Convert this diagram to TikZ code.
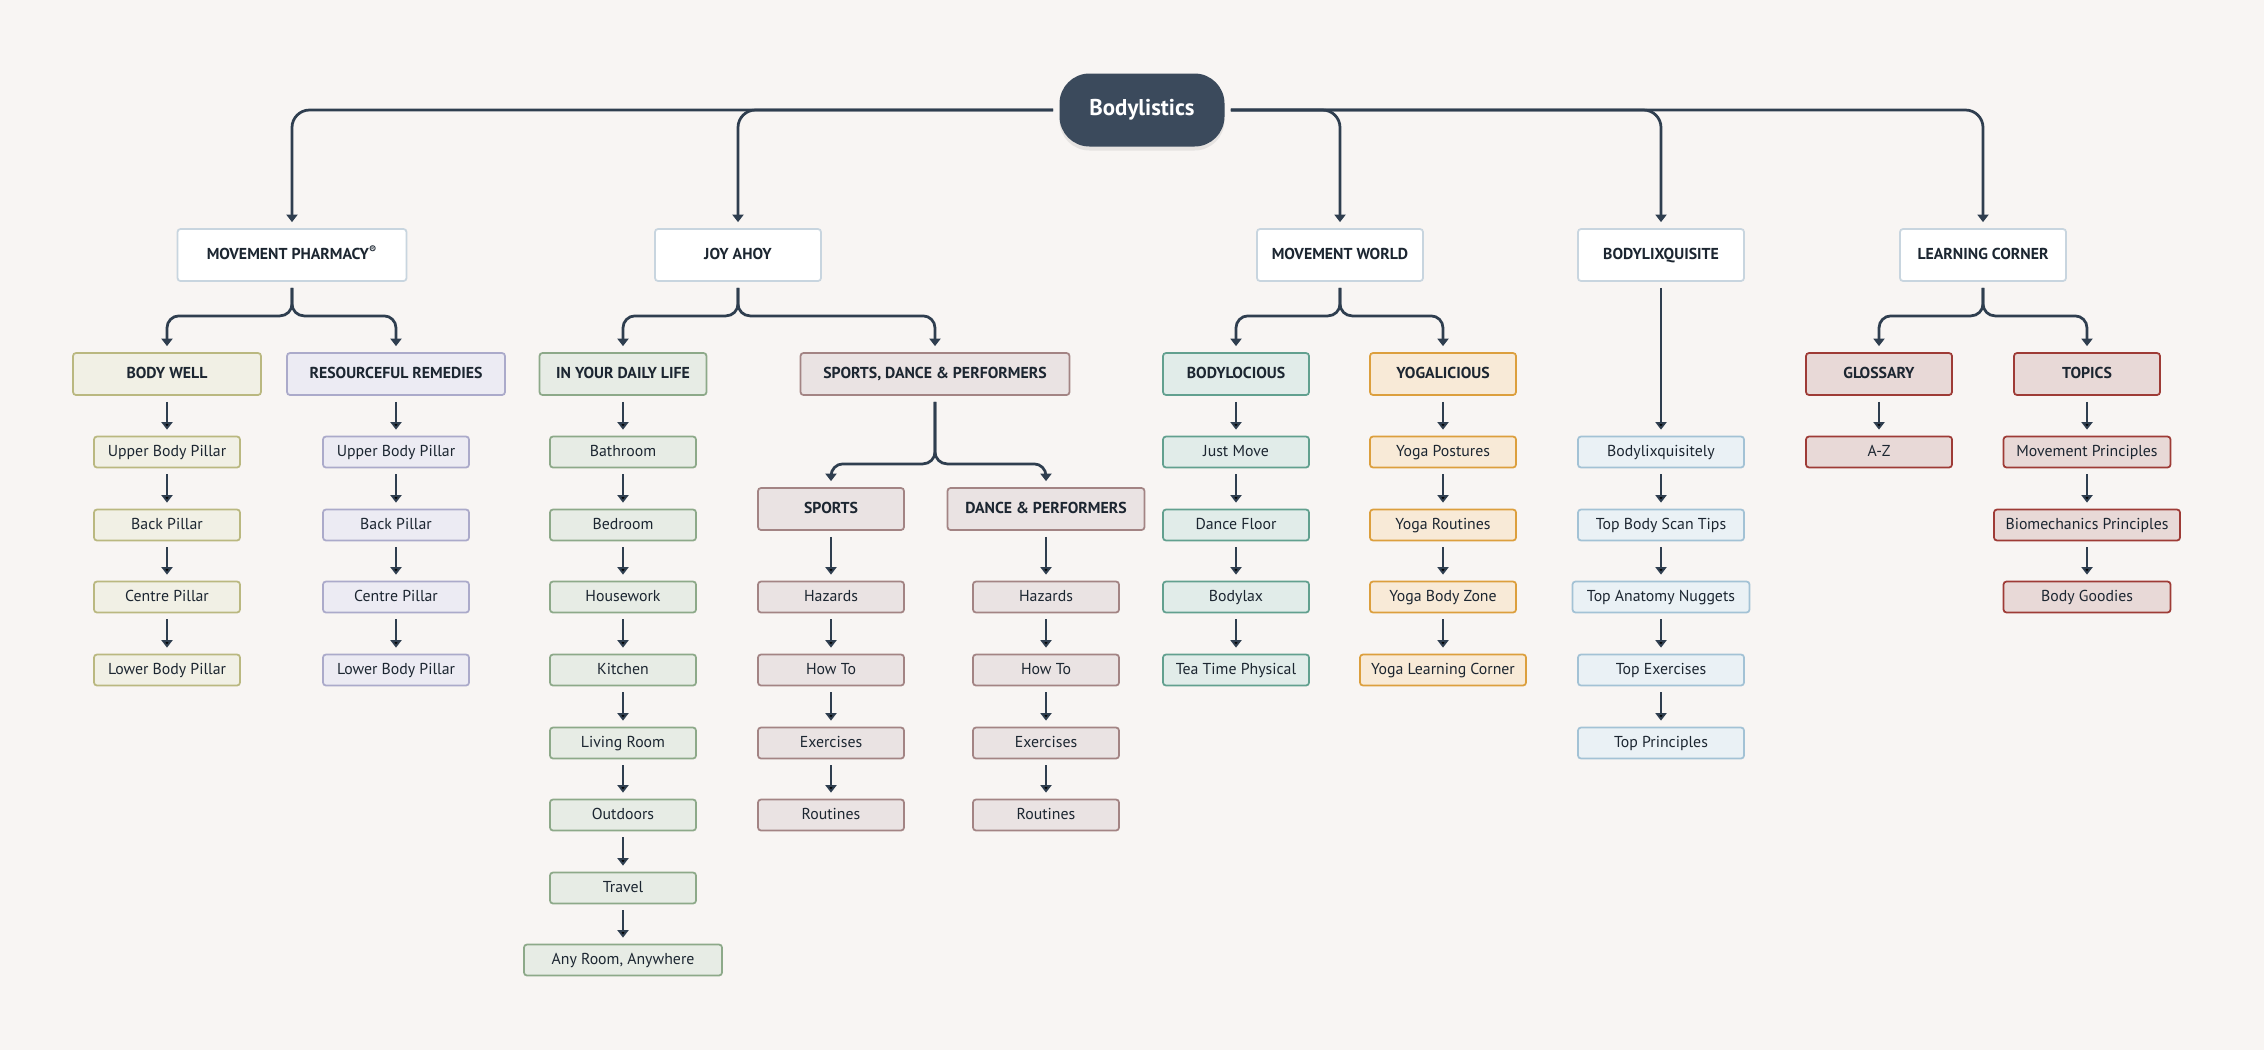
\documentclass[tikz,border=0pt]{standalone}
\usepackage{fontspec}
\setmainfont{PT Sans}
\usetikzlibrary{arrows.meta,shadows}

\definecolor{bg}{HTML}{F8F5F3}
\definecolor{ink}{HTML}{1C2631}
\definecolor{linkc}{HTML}{2F3E4F}
\definecolor{rootc}{HTML}{3B4A5C}
\definecolor{topline}{HTML}{C8D5DF}
\definecolor{wellfill}{HTML}{F1F0E5}
\definecolor{wellline}{HTML}{BAB880}
\definecolor{remedyfill}{HTML}{ECEBF3}
\definecolor{remedyline}{HTML}{ABAACA}
\definecolor{dailyfill}{HTML}{E7ECE5}
\definecolor{dailyline}{HTML}{8DA989}
\definecolor{sportfill}{HTML}{EAE3E3}
\definecolor{sportline}{HTML}{A38484}
\definecolor{locfill}{HTML}{E1ECE9}
\definecolor{locline}{HTML}{62A08F}
\definecolor{yogafill}{HTML}{F8EAD7}
\definecolor{yogaline}{HTML}{DC9F3D}
\definecolor{lixfill}{HTML}{EAF1F5}
\definecolor{lixline}{HTML}{A3C2D5}
\definecolor{learnfill}{HTML}{E8D9D7}
\definecolor{learnline}{HTML}{9E3B36}

\tikzset{
  box/.style={rectangle, rounded corners=0.6mm, line width=0.35mm, minimum height=6.2mm,
    minimum width=29.2mm, inner xsep=1.5mm, text=ink, text height=1.55ex, text depth=0.45ex,
    font=\fontsize{9}{11}\selectfont},
  head/.style={box, minimum height=8.4mm, font=\bfseries\fontsize{9}{11}\selectfont},
  topbox/.style={head, fill=white, draw=topline, minimum height=10.4mm, minimum width=33.2mm},
  rootbox/.style={rectangle, rounded corners=6mm, fill=rootc, text=white, minimum width=33mm,
    minimum height=14.6mm, font=\bfseries\fontsize{13}{15}\selectfont,
    drop shadow={shadow xshift=0mm, shadow yshift=-0.8mm, opacity=0.15}},
  well/.style={fill=wellfill, draw=wellline},
  remedy/.style={fill=remedyfill, draw=remedyline},
  daily/.style={fill=dailyfill, draw=dailyline},
  sport/.style={fill=sportfill, draw=sportline},
  locious/.style={fill=locfill, draw=locline},
  yoga/.style={fill=yogafill, draw=yogaline},
  lix/.style={fill=lixfill, draw=lixline, minimum width=33.2mm},
  learn/.style={fill=learnfill, draw=learnline},
  link/.style={draw=linkc, line width=0.55mm, rounded corners=2.4mm,
    -{Triangle[width=2.2mm,length=1.5mm]}, shorten <=1.2mm, shorten >=1.2mm}
}

\begin{document}
\begin{tikzpicture}[x=0.2mm, y=-0.2mm]
  \fill[bg] (0,0) rectangle (2264,1050);

  % root and main sections
  \node[rootbox] (body) at (1142,110) {Bodylistics};
  \node[topbox, minimum width=45.8mm] (mp) at (292,255) {MOVEMENT PHARMACY\textsuperscript{®}};
  \node[topbox] (ja) at (738,255) {JOY AHOY};
  \node[topbox] (mw) at (1340,255) {MOVEMENT WORLD};
  \node[topbox] (bx) at (1661,255) {BODYLIXQUISITE};
  \node[topbox] (lc) at (1983,255) {LEARNING CORNER};

  % second level
  \node[head, well, minimum width=37.6mm] (bw) at (167,374) {BODY WELL};
  \node[head, remedy, minimum width=43.6mm] (rr) at (396,374) {RESOURCEFUL REMEDIES};
  \node[head, daily, minimum width=33.4mm] (dl) at (623,374) {IN YOUR DAILY LIFE};
  \node[head, sport, minimum width=53.8mm] (sdp) at (935,374) {SPORTS, DANCE \& PERFORMERS};
  \node[head, locious] (bl) at (1236,374) {BODYLOCIOUS};
  \node[head, yoga] (yg) at (1443,374) {YOGALICIOUS};
  \node[head, learn] (gl) at (1879,374) {GLOSSARY};
  \node[head, learn] (tp) at (2087,374) {TOPICS};
  \node[head, sport] (sp) at (831,509) {SPORTS};
  \node[head, sport, minimum width=39.4mm] (dp) at (1046,509) {DANCE \& PERFORMERS};

  % body well
  \node[box, well] (bw1) at (167,452) {Upper Body Pillar};
  \node[box, well] (bw2) at (167,525) {Back Pillar};
  \node[box, well] (bw3) at (167,597) {Centre Pillar};
  \node[box, well] (bw4) at (167,670) {Lower Body Pillar};
  % resourceful remedies
  \node[box, remedy] (rr1) at (396,452) {Upper Body Pillar};
  \node[box, remedy] (rr2) at (396,525) {Back Pillar};
  \node[box, remedy] (rr3) at (396,597) {Centre Pillar};
  \node[box, remedy] (rr4) at (396,670) {Lower Body Pillar};
  % daily life
  \node[box, daily] (dl1) at (623,452) {Bathroom};
  \node[box, daily] (dl2) at (623,525) {Bedroom};
  \node[box, daily] (dl3) at (623,597) {Housework};
  \node[box, daily] (dl4) at (623,670) {Kitchen};
  \node[box, daily] (dl5) at (623,743) {Living Room};
  \node[box, daily] (dl6) at (623,815) {Outdoors};
  \node[box, daily] (dl7) at (623,888) {Travel};
  \node[box, daily, minimum width=39.6mm] (dl8) at (623,960) {Any Room, Anywhere};
  % sports
  \node[box, sport] (sp1) at (831,597) {Hazards};
  \node[box, sport] (sp2) at (831,670) {How To};
  \node[box, sport] (sp3) at (831,743) {Exercises};
  \node[box, sport] (sp4) at (831,815) {Routines};
  \node[box, sport] (dp1) at (1046,597) {Hazards};
  \node[box, sport] (dp2) at (1046,670) {How To};
  \node[box, sport] (dp3) at (1046,743) {Exercises};
  \node[box, sport] (dp4) at (1046,815) {Routines};
  % bodylocious and yogalicious
  \node[box, locious] (bl1) at (1236,452) {Just Move};
  \node[box, locious] (bl2) at (1236,525) {Dance Floor};
  \node[box, locious] (bl3) at (1236,597) {Bodylax};
  \node[box, locious] (bl4) at (1236,670) {Tea Time Physical};
  \node[box, yoga] (yg1) at (1443,452) {Yoga Postures};
  \node[box, yoga] (yg2) at (1443,525) {Yoga Routines};
  \node[box, yoga] (yg3) at (1443,597) {Yoga Body Zone};
  \node[box, yoga, minimum width=33.2mm] (yg4) at (1443,670) {Yoga Learning Corner};
  % bodylixquisite
  \node[box, lix] (bx1) at (1661,452) {Bodylixquisitely};
  \node[box, lix] (bx2) at (1661,525) {Top Body Scan Tips};
  \node[box, lix, minimum width=35.4mm] (bx3) at (1661,597) {Top Anatomy Nuggets};
  \node[box, lix] (bx4) at (1661,670) {Top Exercises};
  \node[box, lix] (bx5) at (1661,743) {Top Principles};
  % learning corner
  \node[box, learn] (gl1) at (1879,452) {A-Z};
  \node[box, learn, minimum width=33.4mm] (tp1) at (2087,452) {Movement Principles};
  \node[box, learn, minimum width=37.2mm] (tp2) at (2087,525) {Biomechanics Principles};
  \node[box, learn, minimum width=33.4mm] (tp3) at (2087,597) {Body Goodies};

  % connectors from the root
  \draw[link, rounded corners=3.5mm] (body.west) -| (mp.north);
  \draw[link, rounded corners=3.5mm] (body.west) -| (ja.north);
  \draw[link, rounded corners=3.5mm] (body.east) -| (mw.north);
  \draw[link, rounded corners=3.5mm] (body.east) -| (bx.north);
  \draw[link, rounded corners=3.5mm] (body.east) -| (lc.north);

  % forks
  \draw[link] (mp.south) -- ++(0,34) -| (bw.north);
  \draw[link] (mp.south) -- ++(0,34) -| (rr.north);
  \draw[link] (ja.south) -- ++(0,34) -| (dl.north);
  \draw[link] (ja.south) -- ++(0,34) -| (sdp.north);
  \draw[link] (mw.south) -- ++(0,34) -| (bl.north);
  \draw[link] (mw.south) -- ++(0,34) -| (yg.north);
  \draw[link] (lc.south) -- ++(0,34) -| (gl.north);
  \draw[link] (lc.south) -- ++(0,34) -| (tp.north);
  \draw[link] (sdp.south) -- ++(0,68) -| (sp.north);
  \draw[link] (sdp.south) -- ++(0,68) -| (dp.north);

  % chains
  \path[link] (bw) edge (bw1) (bw1) edge (bw2) (bw2) edge (bw3) (bw3) edge (bw4);
  \path[link] (rr) edge (rr1) (rr1) edge (rr2) (rr2) edge (rr3) (rr3) edge (rr4);
  \path[link] (dl) edge (dl1) (dl1) edge (dl2) (dl2) edge (dl3) (dl3) edge (dl4)
    (dl4) edge (dl5) (dl5) edge (dl6) (dl6) edge (dl7) (dl7) edge (dl8);
  \path[link] (sp) edge (sp1) (sp1) edge (sp2) (sp2) edge (sp3) (sp3) edge (sp4);
  \path[link] (dp) edge (dp1) (dp1) edge (dp2) (dp2) edge (dp3) (dp3) edge (dp4);
  \path[link] (bl) edge (bl1) (bl1) edge (bl2) (bl2) edge (bl3) (bl3) edge (bl4);
  \path[link] (yg) edge (yg1) (yg1) edge (yg2) (yg2) edge (yg3) (yg3) edge (yg4);
  \path[link] (bx) edge (bx1) (bx1) edge (bx2) (bx2) edge (bx3) (bx3) edge (bx4) (bx4) edge (bx5);
  \path[link] (gl) edge (gl1);
  \path[link] (tp) edge (tp1) (tp1) edge (tp2) (tp2) edge (tp3);
\end{tikzpicture}
\end{document}
